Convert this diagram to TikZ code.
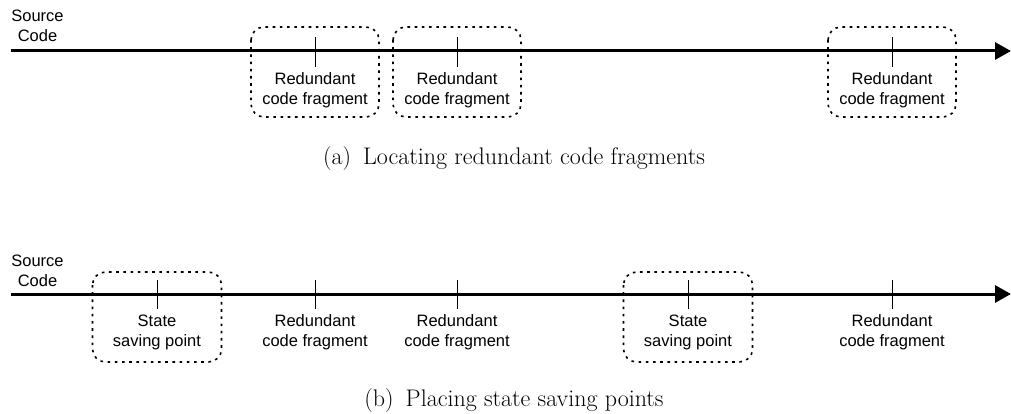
\documentclass[tikz,border=0pt]{standalone}
\usepackage{fontspec}
\newfontfamily\labelfont{Liberation Sans}
\usetikzlibrary{arrows.meta}
\begin{document}
\begin{tikzpicture}[x=1pt, y=-1pt, >={Triangle[length=16pt,width=17pt]},
  lbl/.style={font=\labelfont\fontsize{16.5}{20}\selectfont, align=center, inner sep=0pt},
  frag/.style={lbl, anchor=north, outer sep=6pt},
  region/.style={line width=1.6pt, dash pattern=on 2.6pt off 4.6pt, rounded corners=13pt},
  timeline/.style={line width=3pt, ->},
  caption/.style={font=\fontsize{24}{28}\selectfont, anchor=base}]
  \useasboundingbox (0,0) rectangle (1011,414);

  % (a) locating the fragments
  \coordinate (a0) at (11,51);
  \coordinate (a9) at (1011,51);
  \node[lbl, anchor=north] (srcA) at (37.5,10) {Source\\Code};
  \foreach \x/\n in {315/1, 457/2, 892/3} {
    \draw[region] (\x-64,27) rectangle (\x+64,117);
    \coordinate (ta\n) at (\x,37);
    \node[frag] (fa\n) at (\x,67) {Redundant\\code fragment};
    \draw[line width=0.9pt] (ta\n) -- (fa\n.north);
  }
  \draw[timeline] (a0) -- (a9);
  \node[caption] (capA) at (514,165) {(a)\enspace Locating redundant code fragments};

  % (b) placing the saving points
  \coordinate (b0) at (11,294);
  \coordinate (b9) at (1011,294);
  \node[lbl, anchor=north] (srcB) at (37.5,255) {Source\\Code};
  \foreach \x/\n in {157/1, 688/2} {
    \draw[region] (\x-64.5,272) rectangle (\x+64.5,362);
    \coordinate (ts\n) at (\x,280);
    \node[frag] (fs\n) at (\x,309) {State\\saving point};
    \draw[line width=0.9pt] (ts\n) -- (fs\n.north);
  }
  \foreach \x/\n in {315/1, 457/2, 892/3} {
    \coordinate (tb\n) at (\x,280);
    \node[frag] (fb\n) at (\x,309) {Redundant\\code fragment};
    \draw[line width=0.9pt] (tb\n) -- (fb\n.north);
  }
  \draw[timeline] (b0) -- (b9);
  \node[caption] (capB) at (514,406) {(b)\enspace Placing state saving points};
\end{tikzpicture}
\end{document}
